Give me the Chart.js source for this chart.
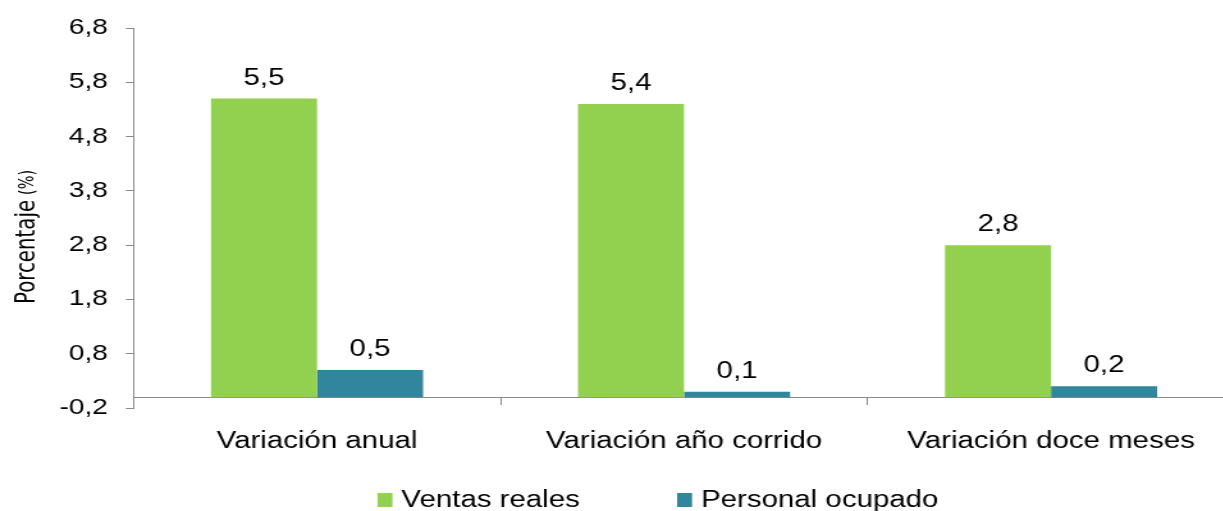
<!DOCTYPE html>
<html>
<head>
<meta charset="utf-8">
<script src="https://cdn.jsdelivr.net/npm/chart.js@4.4.1/dist/chart.umd.min.js"></script>
<style>
  html, body { margin: 0; padding: 0; background: #fff; overflow: hidden; }
  .page { width: 1223px; height: 511px; overflow: hidden; }
  /* the reference is a horizontally stretched picture, so stretch the whole chart the same way */
  .stretch { width: 969px; height: 511px; transform: scaleX(1.28); transform-origin: 0 0; }
</style>
</head>
<body>
<div class="page"><div class="stretch"><canvas class="myChart"></canvas></div></div>
<script>
const categories = ['Variación anual', 'Variación año corrido', 'Variación doce meses']
const seriesNames = ['Ventas reales', 'Personal ocupado']
const ventasReales = [5.5, 5.4, 2.8]
const personalOcupado = [0.5, 0.1, 0.2]
const yTicks = [-0.2, 0.8, 1.8, 2.8, 3.8, 4.8, 5.8, 6.8]

const FONT = "'Liberation Sans', Arial, sans-serif"
const NARROW = "'Liberation Sans Narrow', 'Arial Narrow', 'DejaVu Sans Condensed', sans-serif"
const AXIS = '#8a8a8a'
const fmt = (v) => Number(v).toFixed(1).replace('.', ',')

// numbers above every bar
const valueLabels = {
    id: 'valueLabels',
    afterDatasetsDraw(chart) {
        const ctx = chart.ctx
        ctx.save()
        ctx.font = `23px ${FONT}`
        ctx.fillStyle = '#000'
        ctx.textAlign = 'center'
        ctx.textBaseline = 'alphabetic'
        chart.data.datasets.forEach((ds, i) => {
            chart.getDatasetMeta(i).data.forEach((bar, j) => {
                ctx.fillText(fmt(ds.data[j]), bar.x, bar.y - 14)
            })
        })
        ctx.restore()
    }
}

// y title with the smaller "(%)"
const yTitle = {
    id: 'yTitle',
    afterDraw(chart) {
        const ctx = chart.ctx
        ctx.save()
        ctx.translate(21, 237)
        ctx.rotate(-Math.PI / 2)
        ctx.textBaseline = 'middle'
        ctx.fillStyle = '#000'
        ctx.font = `22px ${NARROW}`
        const w1 = ctx.measureText('Porcentaje').width
        ctx.font = `16px ${NARROW}`
        const w2 = ctx.measureText('(%)').width
        const gap = 5
        let x = -(w1 + gap + w2) / 2
        ctx.font = `22px ${NARROW}`
        ctx.fillText('Porcentaje', x, 0)
        ctx.font = `16px ${NARROW}`
        ctx.fillText('(%)', x + w1 + gap, 1)
        ctx.restore()
    }
}

// legend row at the bottom
const bottomLegend = {
    id: 'bottomLegend',
    afterDraw(chart) {
        const ctx = chart.ctx
        ctx.save()
        ctx.font = `23px ${FONT}`
        ctx.textBaseline = 'alphabetic'
        const boxW = 11.7, boxH = 14, textGap = 7, itemGap = 76, baseline = 507
        const items = chart.data.datasets.map(ds => ({label: ds.label, color: ds.backgroundColor, w: ctx.measureText(ds.label).width}))
        const total = items.reduce((acc, it) => acc + boxW + textGap + it.w, 0) + itemGap * (items.length - 1)
        let x = 514 - total / 2
        items.forEach(it => {
            ctx.fillStyle = it.color
            ctx.fillRect(x, baseline - boxH, boxW, boxH)
            x += boxW + textGap
            ctx.fillStyle = '#000'
            ctx.fillText(it.label, x, baseline)
            x += it.w + itemGap
        })
        ctx.restore()
    }
}

const chartLoader = (link) => {
    const data = {
        labels: categories,
        datasets: [{
            label: seriesNames[0],
            backgroundColor: '#92D050',
            data: ventasReales,
        }, {
            label: seriesNames[1],
            backgroundColor: '#31859C',
            data: personalOcupado,
        }]
    }
    const config = {
        type: 'bar',
        data: data,
        plugins: [valueLabels, yTitle, bottomLegend],
        options: {
            responsive: true,
            maintainAspectRatio: false,
            animation: false,
            categoryPercentage: 0.578,
            barPercentage: 1,
            layout: {padding: {top: 28, bottom: 103, left: 0, right: 4.5}},
            plugins: {
                legend: {display: false},
                tooltip: {enabled: false}
            },
            scales: {
                x: {
                    position: {y: 0},
                    grid: {drawOnChartArea: false, tickLength: 7, color: AXIS, offset: true},
                    border: {color: AXIS, width: 1},
                    ticks: {font: {family: FONT, size: 23}, color: '#000', padding: 24, maxRotation: 0, autoSkip: false}
                },
                y: {
                    min: -0.2,
                    max: 6.8,
                    afterBuildTicks: (scale) => { scale.ticks = yTicks.map(v => ({value: v})) },
                    afterFit: (scale) => { scale.width = 104.3 },
                    grid: {drawOnChartArea: false, tickLength: 6, color: AXIS},
                    border: {color: AXIS, width: 1},
                    ticks: {font: {family: FONT, size: 22}, color: '#000', padding: 14, callback: (v) => fmt(v)}
                }
            }
        }
    }
    new Chart(link, config)
}

const chrt = document.querySelector('.myChart').getContext('2d')
chartLoader(chrt)
</script>
</body>
</html>
